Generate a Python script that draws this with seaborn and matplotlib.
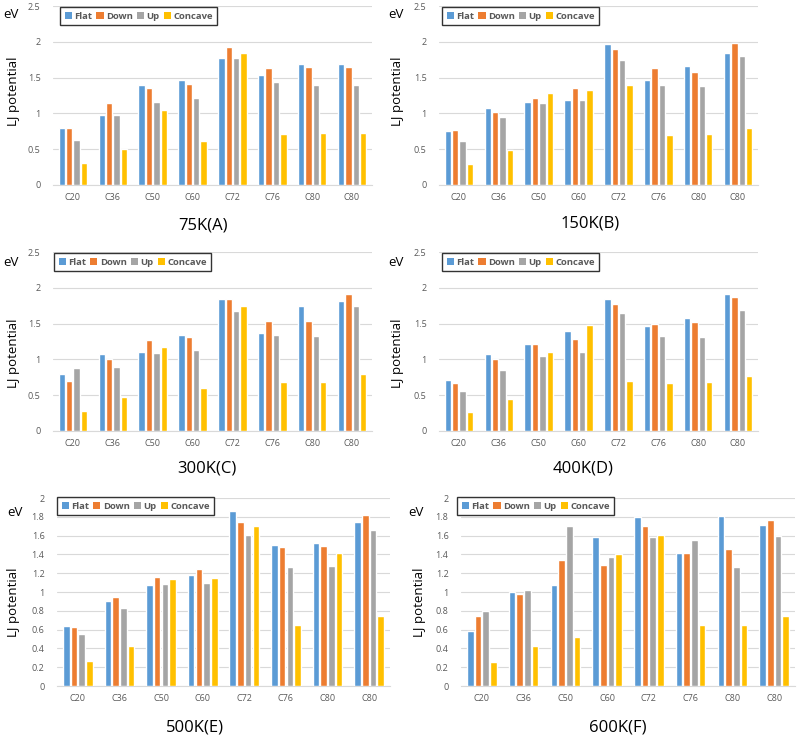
import numpy as np
import pandas as pd
import matplotlib
matplotlib.use("Agg")
import matplotlib.pyplot as plt
import seaborn as sns
from matplotlib.patches import Patch

categories = ["C20", "C36", "C50", "C60", "C72", "C76", "C80", "C80"]
series = ["Flat", "Down", "Up", "Concave"]
colors = ["#5B9BD5", "#ED7D31", "#A5A5A5", "#FFC000"]

# 75K (A)
flat_75 = [0.80, 0.98, 1.40, 1.46, 1.78, 1.53, 1.69, 1.69]
down_75 = [0.80, 1.14, 1.36, 1.41, 1.93, 1.63, 1.65, 1.65]
up_75 = [0.63, 0.98, 1.16, 1.21, 1.77, 1.44, 1.40, 1.40]
concave_75 = [0.31, 0.50, 1.05, 0.62, 1.85, 0.71, 0.72, 0.72]
# 150K (B)
flat_150 = [0.76, 1.08, 1.16, 1.19, 1.97, 1.47, 1.66, 1.84]
down_150 = [0.77, 1.02, 1.22, 1.35, 1.90, 1.63, 1.58, 1.99]
up_150 = [0.61, 0.95, 1.14, 1.19, 1.74, 1.40, 1.38, 1.80]
concave_150 = [0.29, 0.49, 1.29, 1.33, 1.39, 0.70, 0.71, 0.80]
# 300K (C)
flat_300 = [0.79, 1.07, 1.10, 1.34, 1.84, 1.37, 1.75, 1.82]
down_300 = [0.70, 1.01, 1.27, 1.31, 1.84, 1.54, 1.54, 1.92]
up_300 = [0.88, 0.89, 1.09, 1.13, 1.68, 1.34, 1.33, 1.74]
concave_300 = [0.28, 0.47, 1.17, 0.60, 1.74, 0.68, 0.69, 0.79]
# 400K (D)
flat_400 = [0.71, 1.08, 1.22, 1.40, 1.84, 1.47, 1.58, 1.91]
down_400 = [0.67, 1.00, 1.21, 1.29, 1.78, 1.50, 1.52, 1.87]
up_400 = [0.56, 0.85, 1.05, 1.10, 1.65, 1.32, 1.31, 1.69]
concave_400 = [0.27, 0.45, 1.10, 1.48, 0.70, 0.67, 0.68, 0.77]
# 500K (E)
flat_500 = [0.64, 0.90, 1.07, 1.18, 1.86, 1.50, 1.52, 1.74]
down_500 = [0.63, 0.95, 1.16, 1.24, 1.74, 1.48, 1.49, 1.82]
up_500 = [0.55, 0.83, 1.09, 1.10, 1.61, 1.27, 1.28, 1.66]
concave_500 = [0.27, 0.43, 1.14, 1.15, 1.70, 0.65, 1.42, 0.74]
# 600K (F)
flat_600 = [0.58, 1.00, 1.07, 1.58, 1.80, 1.42, 1.81, 1.71]
down_600 = [0.74, 0.98, 1.34, 1.29, 1.70, 1.41, 1.46, 1.77]
up_600 = [0.80, 1.02, 1.70, 1.37, 1.58, 1.55, 1.27, 1.60]
concave_600 = [0.26, 0.43, 0.52, 1.40, 1.61, 0.65, 0.65, 0.75]

titles = ["75K(A)", "150K(B)", "300K(C)", "400K(D)", "500K(E)", "600K(F)"]
panel_data = [
    [flat_75, down_75, up_75, concave_75],
    [flat_150, down_150, up_150, concave_150],
    [flat_300, down_300, up_300, concave_300],
    [flat_400, down_400, up_400, concave_400],
    [flat_500, down_500, up_500, concave_500],
    [flat_600, down_600, up_600, concave_600],
]

W, H = 798, 738
sns.set_theme(style="white")
plt.rcParams["font.family"] = ["Open Sans", "DejaVu Sans"]

fig = plt.figure(figsize=(W / 100, H / 100), dpi=100)
fig.patch.set_facecolor("white")

# geometry in pixels: left, right, top, bottom, ymax, ystep
geom = [
    (53, 372, 6, 185, 2.5, 0.5),
    (439, 758, 6, 185, 2.5, 0.5),
    (53, 372, 252, 431, 2.5, 0.5),
    (439, 758, 252, 431, 2.5, 0.5),
    (57, 390, 498, 686, 2.0, 0.2),
    (461, 795, 498, 686, 2.0, 0.2),
]
title_pos = [(203, 225), (590, 223), (207, 469), (583, 469), (195, 727), (618, 727)]
ev_pos = [(11, 15), (396, 15), (11, 262), (396, 262), (15, 512), (416, 512)]
lj_pos = [(13, 91), (398, 91), (13, 353), (398, 353), (13, 602), (420, 602)]
leg_pos = [(60, 7), (442, 7), (54, 253), (442, 253), (57, 497), (457, 497)]

gray_txt = "#595959"
grid_c = "#D9D9D9"

def fmt(v):
    s = f"{v:.1f}"
    if s.endswith(".0"):
        s = s[:-2]
    return s

for i in range(6):
    l, r, t, b, ymax, ystep = geom[i]
    ax = fig.add_axes([l / W, 1 - b / H, (r - l) / W, (b - t) / H])
    rows = []
    for s, vals in zip(series, panel_data[i]):
        for j, v in enumerate(vals):
            rows.append({"pos": j, "series": s, "value": v})
    df = pd.DataFrame(rows)
    sns.barplot(data=df, x="pos", y="value", hue="series", hue_order=series,
                palette=colors, width=0.74, gap=0.15, saturation=1,
                legend=False, ax=ax, zorder=3)
    ax.set_xlim(-0.5, len(categories) - 0.5)
    ax.set_ylim(0, ymax)
    yt = np.round(np.arange(0, ymax + 1e-9, ystep), 2)
    ax.set_yticks(yt)
    ax.set_yticklabels([fmt(v) for v in yt])
    ax.set_xticks(range(len(categories)))
    ax.set_xticklabels(categories)
    ax.set_xlabel("")
    ax.set_ylabel("")
    for sp in ["top", "right", "left"]:
        ax.spines[sp].set_visible(False)
    ax.spines["bottom"].set_color(grid_c)
    ax.spines["bottom"].set_linewidth(0.8)
    ax.grid(axis="y", color=grid_c, linewidth=0.8, zorder=0)
    ax.set_axisbelow(True)
    ax.tick_params(axis="both", length=0, labelsize=6.5, labelcolor=gray_txt)
    ax.tick_params(axis="y", pad=9)
    ax.tick_params(axis="x", pad=6)

    handles = [Patch(facecolor=c, edgecolor="none") for c in colors]
    lx, ly = leg_pos[i]
    leg = fig.legend(handles, series, loc="upper left",
                     bbox_to_anchor=(lx / W, 1 - ly / H), bbox_transform=fig.transFigure,
                     ncol=4, frameon=True, fancybox=False, borderaxespad=0,
                     handlelength=0.75, handleheight=0.75, handletextpad=0.25,
                     columnspacing=0.45, borderpad=0.5,
                     prop={"weight": "bold", "size": 6.8})
    leg.get_frame().set_edgecolor("#000000")
    leg.get_frame().set_linewidth(1.0)
    for txt in leg.get_texts():
        txt.set_color(gray_txt)

    tx, ty = title_pos[i]
    fig.text(tx / W, 1 - ty / H, titles[i], ha="center", va="center", fontsize=12, color="#000000")
    ex, ey = ev_pos[i]
    fig.text(ex / W, 1 - ey / H, "eV", ha="center", va="center", fontsize=9.5, color="#000000")
    jx, jy = lj_pos[i]
    fig.text(jx / W, 1 - jy / H, "LJ potential", ha="center", va="center", rotation=90,
             fontsize=9.5, color="#000000")

fig.savefig("out.png", dpi=100, facecolor="white")
